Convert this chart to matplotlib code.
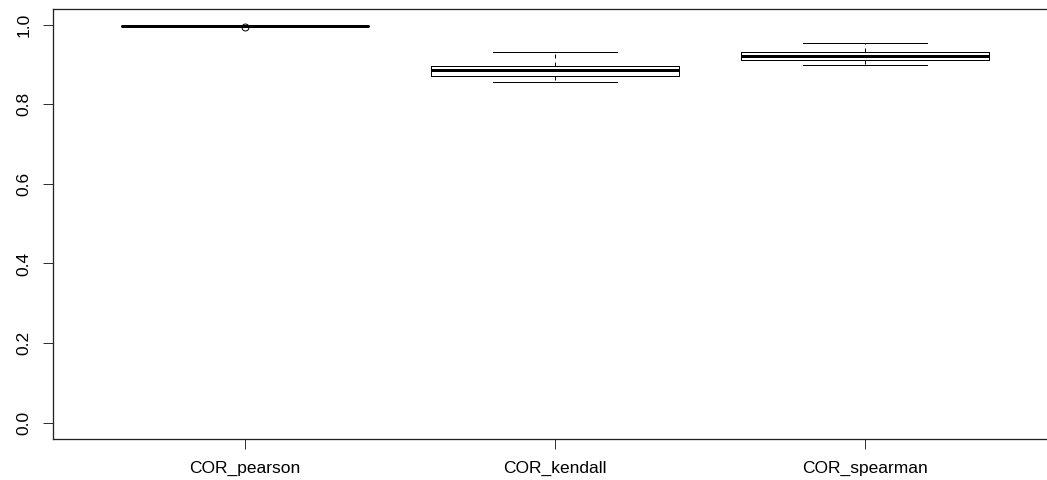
import matplotlib
matplotlib.use("Agg")
import matplotlib.pyplot as plt

# Correlation summaries per method (box statistics)
methods = ["COR_pearson", "COR_kendall", "COR_spearman"]
whislo = [0.9965, 0.856, 0.8995]
q1 = [0.9970, 0.870, 0.911]
med = [0.9975, 0.887, 0.921]
q3 = [0.9980, 0.896, 0.931]
whishi = [0.9985, 0.932, 0.955]
fliers = [[0.9950], [], []]

y_ticks = [0.0, 0.2, 0.4, 0.6, 0.8, 1.0]

W, H = 1047, 480
plt.rcParams["font.family"] = ["Liberation Sans", "DejaVu Sans"]

fig = plt.figure(figsize=(W / 100, H / 100), dpi=100)
# plot region; right border runs past the canvas edge
left, right, top, bottom = 52.5, 1056.9, 8.8, 438.6
ax = fig.add_axes([left / W, 1 - bottom / H, (right - left) / W, (bottom - top) / H])

stats = []
for i, name in enumerate(methods):
    stats.append(dict(label=name, whislo=whislo[i], q1=q1[i], med=med[i],
                      q3=q3[i], whishi=whishi[i], fliers=fliers[i]))

px = 0.72  # one device pixel in points
ax.bxp(stats, positions=[1, 2, 3], widths=0.8, capwidths=0.4,
       boxprops=dict(color="black", linewidth=px),
       medianprops=dict(color="black", linewidth=3 * px, solid_capstyle="butt"),
       whiskerprops=dict(color="black", linewidth=px, linestyle=(0, (4, 4))),
       capprops=dict(color="black", linewidth=px),
       flierprops=dict(marker="o", markerfacecolor="none", markeredgecolor="black",
                       markersize=5, markeredgewidth=px))

ax.set_xlim(0.38, 3.62)
ax.set_ylim(-0.04, 1.04)
ax.set_yticks(y_ticks)
ax.set_yticklabels([f"{v:.1f}" for v in y_ticks], rotation=90, va="center")
ax.set_xticks([1, 2, 3])
ax.set_xticklabels(methods)

for side in ["left", "bottom", "top", "right"]:
    ax.spines[side].set_linewidth(px * 1.3)
    ax.spines[side].set_color("#222222")

ax.tick_params(axis="both", length=7, width=px, color="#333333",
               labelsize=12.5, labelcolor="black")
ax.tick_params(axis="y", pad=8)
ax.tick_params(axis="x", pad=9)

fig.savefig("out.png", dpi=100)
